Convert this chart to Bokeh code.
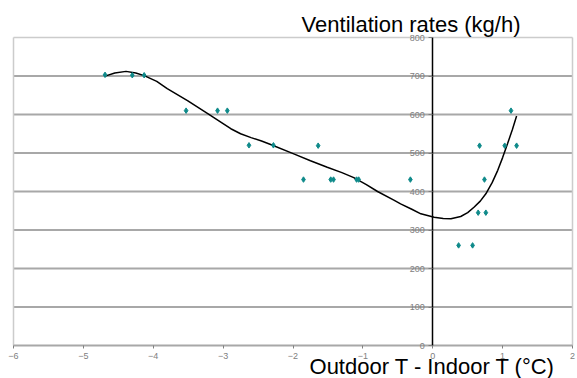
from bokeh.plotting import figure
from bokeh.models import Label, FixedTicker
from bokeh.embed import file_html
from bokeh.resources import INLINE

# Measured points: outdoor-indoor temperature difference (°C) vs ventilation rate (kg/h)
temp_diff = [-4.69, -4.30, -4.13, -3.53, -3.08, -2.94, -2.63, -2.28, -1.64,
             -1.85, -1.46, -1.42, -1.09, -1.06, -0.32, 0.67, 1.03, 1.20,
             1.12, 0.74, 0.65, 0.76, 0.37, 0.57]
vent_rate = [703, 702, 702, 610, 610, 610, 520, 520, 519,
             431, 431, 431, 431, 431, 431, 519, 519, 519,
             610, 431, 345, 345, 260, 260]

# Trend curve
trend_x = [-4.70, -4.55, -4.39, -4.25, -4.13, -3.95, -3.80, -3.51, -3.22, -3.05,
           -2.89, -2.75, -2.60, -2.45, -2.32, -1.98, -1.75, -1.51, -1.30, -1.13,
           -0.95, -0.79, -0.55, -0.46, -0.30, -0.17, 0.02, 0.15, 0.26, 0.40,
           0.50, 0.59, 0.68, 0.76, 0.85, 0.93, 1.00, 1.07, 1.14, 1.20]
trend_y = [699, 708, 712, 708, 701, 686, 667, 636, 602, 582,
           563, 550, 540, 531, 522, 497, 480, 463, 449, 436,
           418, 400, 377, 368, 354, 342, 333, 330, 329, 335,
           345, 359, 375, 394, 423, 455, 488, 524, 561, 596]

x_ticks = [-6, -5, -4, -3, -2, -1, 0, 1, 2]
y_ticks = [0, 100, 200, 300, 400, 500, 600, 700, 800]

FONT = "Liberation Sans"

# layout (pixels): plot area of the reference inside the whole canvas
W, H = 577, 378
PAD_L, PAD_R, PAD_T, PAD_B = 13, 5, 37, 33
x_lo, x_hi = x_ticks[0], x_ticks[-1]
y_lo, y_hi = y_ticks[0], y_ticks[-1]
xs = (x_hi - x_lo) / (W - PAD_L - PAD_R)   # data units per pixel
ys = (y_hi - y_lo) / (H - PAD_T - PAD_B)

p = figure(width=W, height=H,
           x_range=(x_lo - PAD_L * xs, x_hi + PAD_R * xs),
           y_range=(y_lo - PAD_B * ys, y_hi + PAD_T * ys),
           output_backend="svg", toolbar_location=None,
           min_border=0, min_border_left=0, min_border_right=0,
           min_border_top=0, min_border_bottom=0,
           background_fill_color="white", border_fill_color="white")

p.outline_line_color = None
p.xgrid.visible = False
p.ygrid.visible = False

# horizontal grid lines 100..700
grid_y = y_ticks[1:-1]
p.segment(x0=[x_lo] * len(grid_y), y0=grid_y, x1=[x_hi] * len(grid_y), y1=grid_y,
          line_color="#a8a8a8", line_width=2)

# light plot-area border (left, top, right)
p.segment(x0=[x_lo, x_lo, x_hi], y0=[y_lo, y_hi, y_lo],
          x1=[x_lo, x_hi, x_hi], y1=[y_hi, y_hi, y_hi],
          line_color="#cccccc", line_width=1.5)

xa = p.xaxis[0]
xa.fixed_location = 0
xa.bounds = (x_lo, x_hi)
xa.ticker = FixedTicker(ticks=x_ticks)
xa.axis_line_color = "#a8a8a8"
xa.axis_line_width = 2
xa.major_tick_line_color = "#808080"
xa.major_tick_out = 3
xa.major_tick_in = 0
xa.minor_tick_line_color = None
xa.major_label_text_font = FONT
xa.major_label_text_font_size = "9px"
xa.major_label_text_color = "#808080"
xa.major_label_standoff = 4

ya = p.yaxis[0]
ya.fixed_location = 0
ya.bounds = (y_lo, y_hi)
ya.ticker = FixedTicker(ticks=y_ticks)
ya.axis_line_color = "black"
ya.axis_line_width = 1.5
ya.major_tick_line_color = "#808080"
ya.major_tick_out = 4
ya.major_tick_in = 0
ya.minor_tick_line_color = None
ya.major_label_text_font = FONT
ya.major_label_text_font_size = "9px"
ya.major_label_text_color = "#808080"
ya.major_label_standoff = 4

p.line(trend_x, trend_y, line_color="black", line_width=1.5)
p.scatter(temp_diff, vent_rate, marker="diamond", size=5.5,
          fill_color="#0e8a8a", line_color="#0e8a8a")

p.add_layout(Label(x=x_hi, y=y_hi, x_offset=-52, y_offset=13.5,
                   text="Ventilation rates (kg/h)", text_align="right",
                   text_baseline="middle", text_font=FONT,
                   text_font_size="22px", text_color="black"))
p.add_layout(Label(x=x_hi, y=y_lo, x_offset=-17, y_offset=-20.5,
                   text="Outdoor T - Indoor T (°C)", text_align="right",
                   text_baseline="middle", text_font=FONT,
                   text_font_size="22px", text_color="black"))

open("out.html", "w").write(file_html(p, INLINE))
